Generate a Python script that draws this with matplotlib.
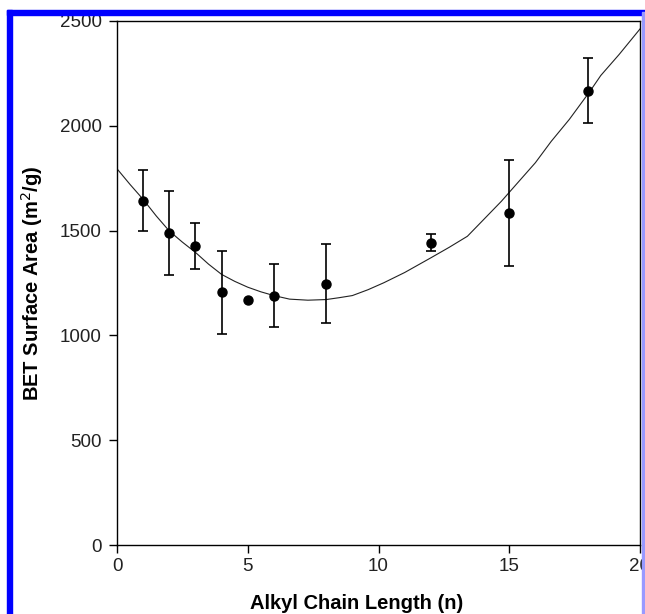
import matplotlib.pyplot as plt
from matplotlib.patches import Rectangle
import numpy as np

plt.rcParams['font.family'] = ['Liberation Sans', 'DejaVu Sans']

# measured points
chain = [1, 2, 3, 4, 5, 6, 8, 12, 15, 18]
area = [1643, 1490, 1427, 1205, 1171, 1190, 1247, 1442, 1585, 2168]
area_err = [146, 201, 111, 196, 0, 150, 187, 41, 253, 155]

# fitted curve
fit_x = [0, 0.5, 1, 1.5, 2, 2.5, 3, 3.5, 4, 4.5, 5, 5.5, 6, 6.6, 7.3, 8, 8.5, 9,
         9.6, 10.2, 11, 12, 12.7, 13.4, 14, 14.7, 15.3, 16, 16.6, 17.3, 18.1,
         18.5, 19.2, 20]
fit_y = [1795, 1720, 1649, 1570, 1498, 1445, 1396, 1340, 1291, 1258, 1230, 1208,
         1190, 1173, 1168, 1171, 1180, 1190, 1218, 1251, 1300, 1370, 1420, 1473,
         1550, 1640, 1725, 1824, 1925, 2031, 2167, 2240, 2340, 2462]

fig = plt.figure(figsize=(6.45, 6.14), dpi=100)
ax = fig.add_axes([117 / 645, 1 - 545 / 614, 523 / 645, 524 / 614])

ax.plot(fit_x, fit_y, color='#222222', lw=0.8, zorder=2)

x = np.array(chain)
y = np.array(area)
e = np.array(area_err)
has_err = e > 0
ax.errorbar(x[has_err], y[has_err], yerr=e[has_err], fmt='none',
            ecolor='black', elinewidth=1.2, capsize=3.5, capthick=1.2, zorder=3)
ax.plot(x, y, 'o', color='black', ms=6.5, zorder=4)

ax.set_xlim(0, 20)
ax.set_ylim(0, 2500)
ax.set_xticks([0, 5, 10, 15, 20])
ax.set_yticks([0, 500, 1000, 1500, 2000, 2500])
ax.tick_params(direction='out', length=6, width=1, labelsize=13.5,
               labelcolor='#222222')
ax.tick_params(axis='y', pad=5)
ax.tick_params(axis='x', pad=3.5)
for s in ax.spines.values():
    s.set_linewidth(1.0)

ax.set_xlabel('Alkyl Chain Length (n)', fontsize=14.5, fontweight='bold')
ax.set_ylabel('BET Surface Area (m$^2$/g)', fontsize=14.5, fontweight='bold')
ax.xaxis.set_label_coords(0.459, -0.093)
ax.yaxis.set_label_coords(-0.138, 0.5)

# blue frame of the cropped figure
W, H = 645, 614
fig.patches.append(Rectangle((7 / W, 0), 5 / W, 1 - 10 / H, transform=fig.transFigure,
                             color='#0000ff', zorder=10))
fig.patches.append(Rectangle((7 / W, 1 - 15 / H), 1 - 7 / W, 5 / H, transform=fig.transFigure,
                             color='#0000ff', zorder=10))
fig.patches.append(Rectangle((642 / W, 0), 3 / W, 1 - 12 / H, transform=fig.transFigure,
                             color='#9999ff', zorder=10))

fig.savefig('out.png', dpi=100)
